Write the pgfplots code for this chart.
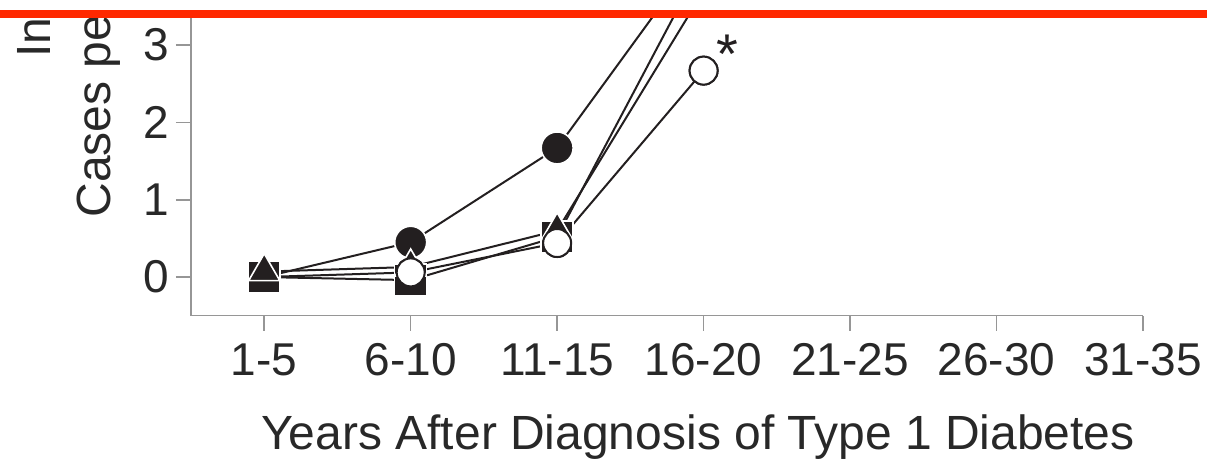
\documentclass[border=0pt]{standalone}
\usepackage{fontspec}
\setmainfont{Liberation Sans}
\usepackage{pgfplots}
\pgfplotsset{compat=1.18}
\definecolor{axgray}{RGB}{150,150,150}
\definecolor{txt}{RGB}{40,40,40}
\definecolor{ink}{RGB}{35,31,32}
\definecolor{redline}{RGB}{255,40,0}
\begin{document}
\begin{tikzpicture}[x=1pt,y=1pt]
\begin{scope}
\clip (0,0) rectangle (603.5,222.5);
\begin{axis}[
  at={(95.5pt,71.65pt)}, anchor=south west,
  scale only axis, width=476pt, height=150.75pt,
  xmin=-0.5, xmax=6, ymin=-0.5, ymax=3.4,
  axis x line=bottom, axis y line=left,
  axis line style={-, axgray, line width=0.8pt},
  xtick={0,...,6}, xticklabels={1-5,6-10,11-15,16-20,21-25,26-30,31-35},
  ytick={0,1,2,3},
  tick style={axgray, line width=0.8pt},
  tick align=outside, major tick length=7.5pt,
  ticklabel style={font=\fontsize{23}{27}\selectfont, text=txt},
  xticklabel style={yshift=-3pt},
  /pgf/number format/assume math mode=true,
  xlabel={Years After Diagnosis of Type 1 Diabetes},
  xlabel style={at={(rel axis cs:0.5326,0)}, anchor=base, yshift=-67pt, inner sep=0pt, font=\fontsize{24}{28}\selectfont, text=txt},
]
\addplot[ink, line width=1pt, mark=*, mark size=7pt, mark options={fill=white, draw=ink, line width=1pt}] coordinates {(0,0)(1,0.06)(2,0.44)(3,2.67)};
\addplot[ink, line width=1pt, mark=*, mark size=8pt, mark options={fill=ink, draw=white, line width=0.8pt}] coordinates {(0,0)(1,0.45)(2,1.67)(3,4.27)};
\addplot[ink, line width=1pt, mark=square*, mark size=8pt, mark options={fill=ink, draw=white, line width=0.8pt}] coordinates {(0,0)(1,-0.04)(2,0.52)(3,4.1)};
\addplot[ink, line width=1pt, mark=triangle*, mark size=9pt, mark options={fill=ink, draw=white, line width=0.8pt}] coordinates {(0,0.07)(1,0.13)(2,0.6)(3,3.7)};
\addplot[only marks, mark=*, mark size=7pt, mark options={fill=white, draw=ink, line width=1pt}] coordinates {(1,0.06)(2,0.44)(3,2.67)};
\node[anchor=base, font=\fontsize{28}{30}\selectfont, text=ink] at (axis cs:3,2.67) [xshift=12pt, yshift=-1.5pt] {*};
\end{axis}
\node[rotate=90, anchor=base west, inner sep=0pt, font=\fontsize{24}{28}\selectfont, text=txt] at (55,120.5) {Cases per 1000 Person-Years};
\node[rotate=90, anchor=base west, inner sep=0pt, font=\fontsize{24}{28}\selectfont, text=txt] at (25,200.5) {Incidence,};
\end{scope}
\draw[redline, line width=4pt] (0,222.5) -- (603.5,222.5);
\pgfresetboundingbox
\useasboundingbox (0,0) rectangle (603.5,229.5);
\end{tikzpicture}
\end{document}
